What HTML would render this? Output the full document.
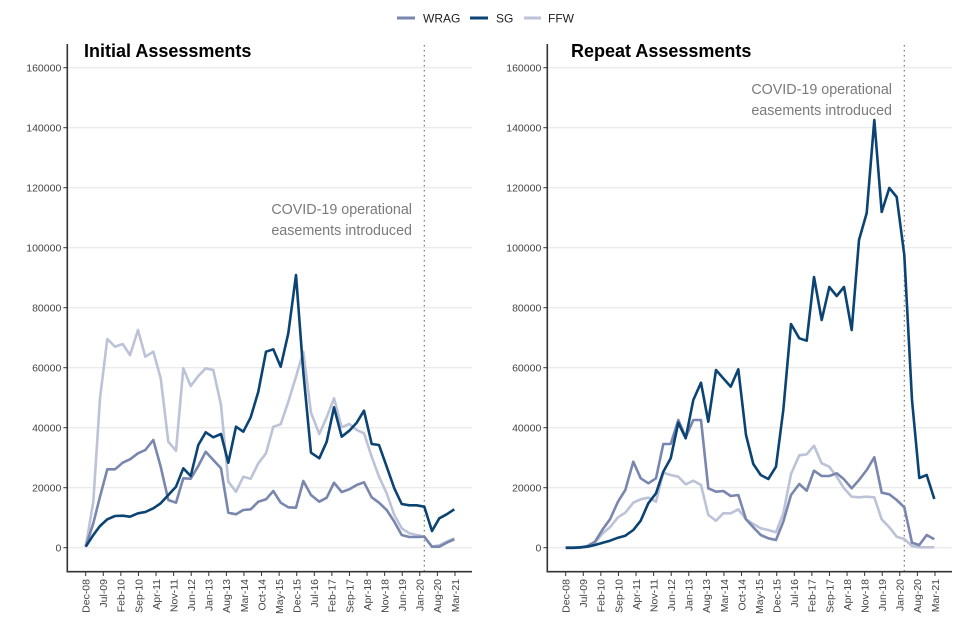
<!DOCTYPE html>
<html><head><meta charset="utf-8">
<style>
html,body{margin:0;padding:0;background:#fff;}
svg{display:block;font-family:"Liberation Sans",sans-serif;}
</style></head>
<body>
<svg id="s" width="960" height="640" viewBox="0 0 960 640" xmlns="http://www.w3.org/2000/svg">
<g id="legend" font-size="12" fill="#222">
<line x1="397" y1="18" x2="415" y2="18" stroke="#7986ad" stroke-width="3"/>
<text x="423" y="22.5">WRAG</text>
<line x1="470" y1="18" x2="488" y2="18" stroke="#0b4373" stroke-width="3"/>
<text x="496" y="22.5">SG</text>
<line x1="524" y1="18" x2="541" y2="18" stroke="#bcc3d8" stroke-width="3"/>
<text x="548" y="22.5">FFW</text>
</g>
</svg>
<script>
const svg=document.getElementById('s');
const NS='http://www.w3.org/2000/svg';
function el(t,a,txt){const e=document.createElementNS(NS,t);for(const k in a)e.setAttribute(k,a[k]);if(txt!==undefined)e.textContent=txt;svg.appendChild(e);return e;}
const zx=[137,160,180,202,225,248,270,294,316,340,362,385,408,430,452,475,497,520,543,565,588,610,632,655,678,700,722,745,768,790,813,838,860,882,905,928,950,972,995,1017,1040,1063,1085,1108,1130,1153,1176,1198,1220,1243];
const labels=["Dec-08","Jul-09","Feb-10","Sep-10","Apr-11","Nov-11","Jun-12","Jan-13","Aug-13","Mar-14","Oct-14","May-15","Dec-15","Jul-16","Feb-17","Sep-17","Apr-18","Nov-18","Jun-19","Jan-20","Aug-20","Mar-21"];
function panel(ox,title,tx,ann,annY,dashX,series){
  const ax=ox+27.3, right=ox+432;
  const y0=547.7, k=60/20000;
  for(let v=0;v<=160000;v+=20000){
    const y=y0-v*k;
    el('line',{x1:ax,x2:right,y1:y,y2:y,stroke:'#e3e3e3','stroke-width':1});
    el('line',{x1:ax-4,x2:ax,y1:y,y2:y,stroke:'#333','stroke-width':1});
    el('text',{x:ax-6,y:y+3.8,'text-anchor':'end','font-size':'10.5',fill:'#444'},String(v));
  }
  el('line',{x1:dashX,x2:dashX,y1:45,y2:571,stroke:'#777','stroke-width':1.2,'stroke-dasharray':'1.5,3.5'});
  const x0=ox+45.7, pm=2.512;
  labels.forEach((l,i)=>{
    let m=i*7; if(i==21) m=147;
    const x=x0+m*pm;
    el('line',{x1:x,x2:x,y1:571.5,y2:576,stroke:'#333','stroke-width':1});
    el('text',{x:0,y:0,transform:`translate(${x+3.8},579) rotate(-90)`,'text-anchor':'end','font-size':'10.5',fill:'#444'},l);
  });
  series.forEach(([c,ys])=>{
    const pts=ys.map((zy,i)=>[(ox+zx[i]/3).toFixed(1),(typeof zy==='object'?zy[0]:320+zy/3).toFixed(1)].join(','));
    el('polyline',{points:pts.join(' '),fill:'none',stroke:c,'stroke-width':2.6,'stroke-linejoin':'round'});
  });
  el('line',{x1:ax,x2:ax,y1:44,y2:572,stroke:'#333','stroke-width':1.6});
  el('line',{x1:ax-0.8,x2:right,y1:571.7,y2:571.7,stroke:'#333','stroke-width':1.6});
  el('text',{x:tx,y:57,'font-size':'18','font-weight':'bold',fill:'#000'},title);
  el('text',{x:ann,y:annY,'text-anchor':'end','font-size':'14.3',fill:'#7a7a7a'},'COVID-19 operational');
  el('text',{x:ann,y:annY+21,'text-anchor':'end','font-size':'14.3',fill:'#7a7a7a'},'easements introduced');
}
const F=v=>[v];
const lFFW=[680,545,235,57,80,72,105,30,110,95,175,365,392,145,198,168,145,150,255,485,515,470,476,430,400,320,313,245,170,95,278,342,292,235,322,312,330,340,410,470,520,585,625,640,645,650,680,676,665,655];
const lWRAG=[680,610,530,448,448,428,418,400,390,360,440,540,548,475,476,438,395,420,445,578,583,570,568,545,538,513,548,562,563,483,525,545,533,488,516,508,495,487,532,548,570,605,645,651,651,650,680,680,668,658];
const lSG=[680,645,618,598,588,587,590,580,576,565,550,525,500,445,468,375,337,352,342,428,320,335,292,215,95,88,140,40,F(275),F(372),398,415,365,262,350,332,308,272,372,375,440,505,552,556,556,560,633,595,583,568];
const rSG=[683,683,682,680,675,668,662,653,647,630,602,550,520,455,415,308,355,240,188,305,150,175,200,148,345,432,465,477,440,270,12,55,62,F(277),F(320),F(287),F(296),F(287),F(330),F(240),F(213),F(120),F(212),F(188),F(197),F(255),F(400),F(478),F(475),F(499)];
const rWRAG=[683,683,683,678,665,628,598,545,510,425,475,490,475,372,372,300,352,300,300,505,515,513,528,525,598,622,645,655,660,605,525,492,512,452,468,468,460,478,505,480,450,412,518,523,540,562,668,675,645,658];
const rFFW=[685,685,683,680,668,640,622,592,578,548,538,533,545,458,465,470,493,482,495,585,602,580,580,568,598,612,625,630,637,580,462,406,403,377,430,440,470,505,530,532,530,532,598,622,650,657,678,682,682,682];
const cW='#7986ad',cS='#0b4373',cF='#bcc3d8';
panel(40,'Initial Assessments',84,412,214,424.3,[[cF,lFFW],[cW,lWRAG],[cS,lSG]]);
panel(520,'Repeat Assessments',571,892,94,904.3,[[cF,rFFW],[cW,rWRAG],[cS,rSG]]);
</script>
</body></html>
